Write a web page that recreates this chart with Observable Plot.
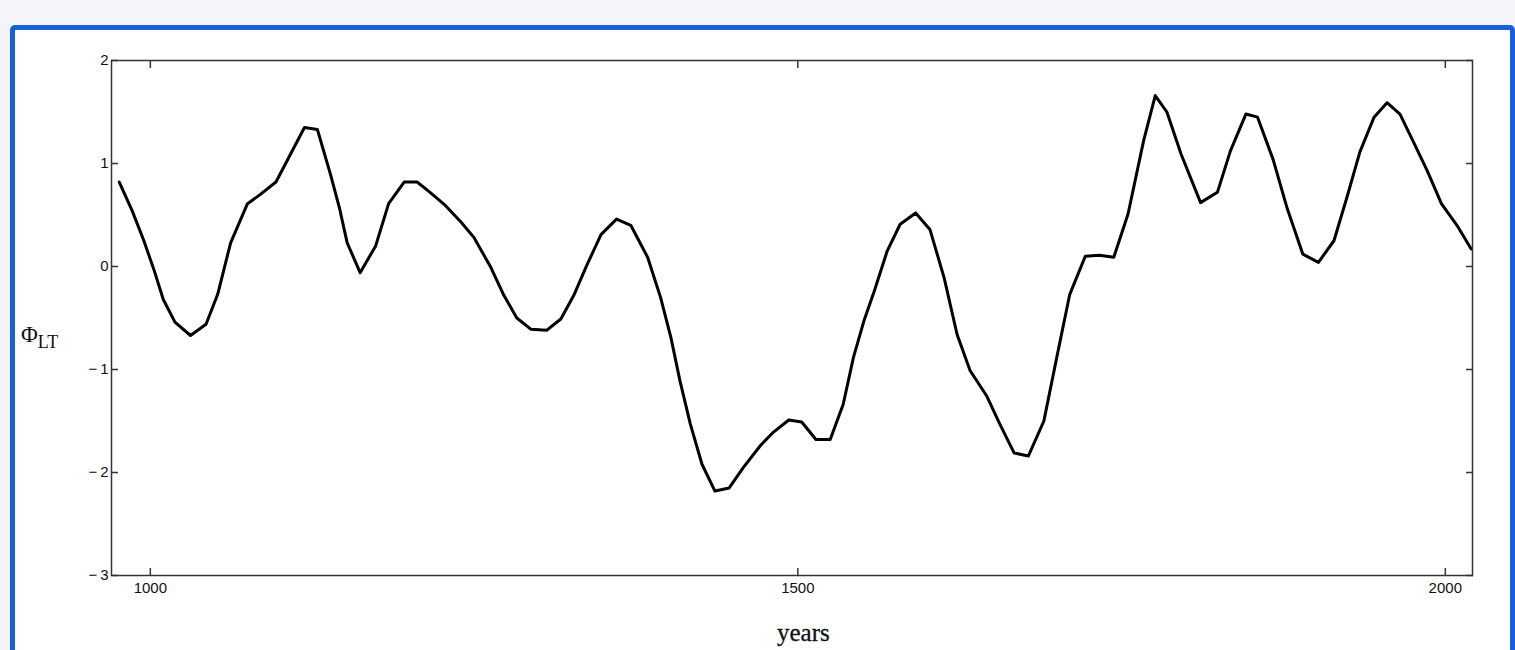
<!DOCTYPE html>
<html>
<head>
<meta charset="utf-8">
<script src="https://cdn.jsdelivr.net/npm/d3@7"></script>
<script src="https://cdn.jsdelivr.net/npm/@observablehq/plot@0.6"></script>
<style>
  html, body { margin: 0; padding: 0; background: #f5f4f9; overflow: hidden; }
  #page { position: relative; width: 1515px; height: 650px; }
  #frame { position: absolute; left: 10px; top: 25px; width: 1495px; height: 700px;
           border: 5px solid #1660dc; border-radius: 5px 5px 0 0; background: #ffffff; }
  #chart { position: absolute; left: 0; top: 0; }
  #chart svg text { font-family: "Liberation Sans", sans-serif !important; font-size: 15px !important; fill: #111; }
  .ylab { position: absolute; left: 21px; top: 322px; font-family: "Liberation Serif", serif; color: #111; white-space: nowrap; }
  .ylab .phi { font-size: 23px; }
  .ylab sub { font-size: 18px; vertical-align: -6px; }
  .xlab { position: absolute; left: 777px; top: 619px; font-family: "Liberation Serif", serif; font-size: 25px; color: #111; -webkit-text-stroke: 0.3px #111; }
</style>
</head>
<body>
<div id="page">
  <div id="frame"></div>
  <div id="chart"></div>
  <div class="ylab"><span class="phi">Φ</span><sub>LT</sub></div>
  <div class="xlab">years</div>
</div>
<script>
const years = [976,986,995,1003,1010,1019,1031,1043,1052,1062,
  1075,1085,1097,1107,1119,1129,1139,1146,1152,1162,
  1174,1184,1196,1206,1216,1228,1240,1250,1263,1273,
  1283,1294,1306,1317,1327,1337,1348,1360,1371,1384,
  1394,1402,1409,1417,1426,1436,1447,1458,1471,1481,
  1493,1503,1514,1525,1535,1543,1551,1559,1569,1579,
  1591,1602,1613,1623,1633,1646,1656,1667,1678,1690,
  1700,1710,1722,1733,1744,1755,1767,1776,1785,1796,
  1811,1824,1834,1846,1855,1867,1878,1890,1902,1914,
  1924,1934,1945,1955,1965,1975,1986,1997,2009,2020];
const phiLT = [0.82,0.54,0.25,-0.04,-0.32,-0.54,-0.67,-0.56,-0.27,0.23,
  0.61,0.70,0.82,1.06,1.35,1.33,0.90,0.57,0.23,-0.06,
  0.20,0.61,0.82,0.82,0.72,0.59,0.43,0.28,-0.01,-0.28,
  -0.50,-0.61,-0.62,-0.51,-0.28,0.01,0.31,0.46,0.40,0.09,
  -0.30,-0.69,-1.11,-1.53,-1.92,-2.18,-2.15,-1.95,-1.74,-1.61,
  -1.49,-1.51,-1.68,-1.68,-1.34,-0.88,-0.53,-0.24,0.15,0.41,
  0.52,0.36,-0.11,-0.66,-1.01,-1.26,-1.53,-1.81,-1.84,-1.50,
  -0.88,-0.27,0.10,0.11,0.09,0.51,1.22,1.66,1.50,1.09,
  0.62,0.72,1.12,1.48,1.45,1.04,0.56,0.12,0.04,0.25,
  0.67,1.11,1.45,1.59,1.48,1.22,0.93,0.61,0.40,0.17];
const xTicks = [1000, 1500, 2000];
const yTicks = [-3, -2, -1, 0, 1, 2];

const data = years.map((y, i) => ({year: y, phi: phiLT[i]}));
const fmtY = d => d < 0 ? "\u2212\u2009" + Math.abs(d) : String(d);

const chart = Plot.plot({
  width: 1515,
  height: 650,
  marginLeft: 111,
  marginRight: 43,
  marginTop: 60,
  marginBottom: 75,
  style: {background: "transparent", color: "#111"},
  x: {domain: [970, 2021], ticks: xTicks},
  y: {domain: [-3, 2], ticks: yTicks},
  marks: [
    Plot.frame({stroke: "#333", strokeWidth: 1.5}),
    Plot.axisX(xTicks, {anchor: "bottom", tickSize: -7, tickPadding: 14, tickFormat: d => String(d), label: null, stroke: "#333", strokeWidth: 1.5}),
    Plot.axisX(xTicks, {anchor: "top", tickSize: -7, tickFormat: () => "", label: null, stroke: "#333", strokeWidth: 1.5}),
    Plot.axisY(yTicks, {anchor: "left", tickSize: -7, tickPadding: 10, tickFormat: fmtY, label: null, stroke: "#333", strokeWidth: 1.5}),
    Plot.axisY(yTicks, {anchor: "right", tickSize: -7, tickFormat: () => "", label: null, stroke: "#333", strokeWidth: 1.5}),
    Plot.line(data, {x: "year", y: "phi", stroke: "#000", strokeWidth: 3, strokeLinejoin: "round", clip: true})
  ]
});
document.getElementById("chart").appendChild(chart);
</script>
</body>
</html>
